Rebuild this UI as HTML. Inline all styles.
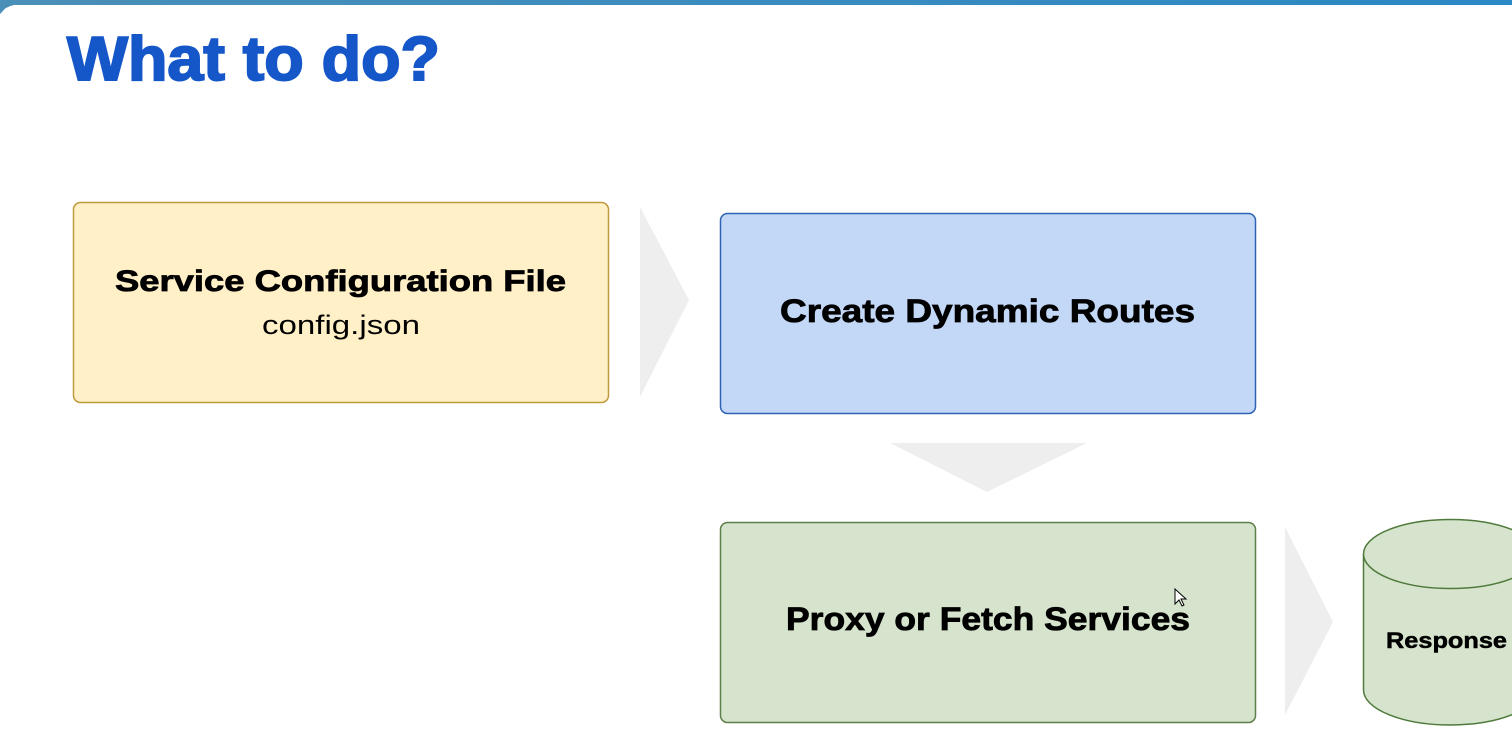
<!DOCTYPE html>
<html><head><meta charset="utf-8"><style>
html,body{margin:0;padding:0;background:#fff;}
svg{display:block;}
text{font-family:"Liberation Sans",sans-serif;font-weight:bold;fill:#000;}
</style></head><body>
<svg width="1512" height="731" viewBox="0 0 1512 731" xmlns="http://www.w3.org/2000/svg">
<defs>
<linearGradient id="tb" x1="0" x2="1"><stop offset="0" stop-color="#4a8fb8"/><stop offset="1" stop-color="#2a88c4"/></linearGradient>
</defs>
<rect x="0" y="0" width="1512" height="731" fill="#fff"/>
<rect x="0" y="0" width="1512" height="5" fill="url(#tb)"/>
<path d="M0 5 L14 5 Q5 7 2 12 L0 14 Z" fill="#4a8fb8"/>
<text x="67" y="80" font-size="62" style="fill:#1556c8;stroke:#1556c8;stroke-width:2" textLength="373" lengthAdjust="spacingAndGlyphs">What to do?</text>

<rect x="73.5" y="202.5" width="535" height="200" rx="7" fill="#fff0c7" stroke="#bf9b3c" stroke-width="1.5"/>
<text x="340.5" y="291" font-size="30" text-anchor="middle" style="stroke:#000;stroke-width:0.8" textLength="451" lengthAdjust="spacingAndGlyphs">Service Configuration File</text>
<text x="341" y="334" font-size="27" text-anchor="middle" style="font-weight:normal" textLength="158" lengthAdjust="spacingAndGlyphs">config.json</text>

<polygon points="640,207 689,300 640,397" fill="#eeeeee"/>

<rect x="720.5" y="213.5" width="535" height="200" rx="7" fill="#c3d7f6" stroke="#2f63b4" stroke-width="1.5"/>
<text x="987.5" y="322" font-size="32" text-anchor="middle" style="stroke:#000;stroke-width:0.8" textLength="415" lengthAdjust="spacingAndGlyphs">Create Dynamic Routes</text>

<polygon points="890,443 1087,443 987,492" fill="#eeeeee"/>

<rect x="720.5" y="522.5" width="535" height="200" rx="7" fill="#d6e4cd" stroke="#5d7f49" stroke-width="1.5"/>
<text x="988" y="630" font-size="32" text-anchor="middle" style="stroke:#000;stroke-width:0.8" textLength="404" lengthAdjust="spacingAndGlyphs">Proxy or Fetch Services</text>

<polygon points="1285,527 1333,622 1285,715" fill="#eeeeee"/>

<path d="M1363.5 555 L1363.5 690 A87 35 0 0 0 1537.5 690 L1537.5 555 Z" fill="#d6e4cd" stroke="#4f7a3c" stroke-width="1.5"/>
<ellipse cx="1450.5" cy="554" rx="87" ry="34.5" fill="#d6e4cd" stroke="#4f7a3c" stroke-width="1.5"/>
<text x="1386" y="648" font-size="22" style="stroke:#000;stroke-width:0.5" textLength="121" lengthAdjust="spacingAndGlyphs">Response</text>

<path d="M1175 589 L1175 604 L1179 600 L1182 606 L1184 605 L1181 599 L1186 599 Z" fill="#fff" stroke="#000" stroke-width="1"/>
</svg>
</body></html>
